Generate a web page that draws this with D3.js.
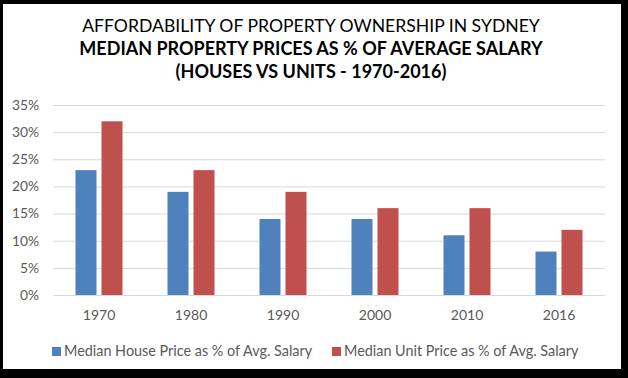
<!DOCTYPE html>
<html><head><meta charset="utf-8">
<script src="https://cdn.jsdelivr.net/npm/d3@7"></script>
<style>body{margin:0;background:#000}svg{display:block}</style>
</head><body>
<svg id="c" width="628" height="378"></svg>
<script>
const categories = ["1970","1980","1990","2000","2010","2016"];
const houseValues = [23,19,14,14,11,8];
const unitValues = [32,23,19,16,16,12];
const seriesNames = ["Median House Price as % of Avg. Salary","Median Unit Price as % of Avg. Salary"];
const yTicks = [0,5,10,15,20,25,30,35];
const titles = ["AFFORDABILITY OF PROPERTY OWNERSHIP IN SYDNEY","MEDIAN PROPERTY PRICES AS % OF AVERAGE SALARY","(HOUSES VS UNITS - 1970-2016)"];
const colors = ["#4F81BD","#C0504D"];

const font = "Lato, 'Open Sans', sans-serif";
const svg = d3.select("#c");
svg.append("rect").attr("width",628).attr("height",378).attr("fill","#000");
svg.append("rect").attr("x",3).attr("y",4).attr("width",618).attr("height",365).attr("fill","#fff");

// titles
const tY = [32,55,78];
titles.forEach((t,i)=>{
  svg.append("text").attr("x",311).attr("y",tY[i]).attr("text-anchor","middle")
    .attr("font-family",font).attr("font-size",i===0?17.6:18).attr("font-weight",i===0?400:700)
    .attr("fill","#000").text(t);
});

const x = d3.scaleBand().domain(categories).range([53,605]);
const y = d3.scaleLinear().domain([0,35]).range([295,105]);
const barW = 21, gap = 5;

// gridlines
svg.append("g").selectAll("line").data(yTicks).join("line")
  .attr("x1",53).attr("x2",605).attr("y1",d=>y(d)+0.5).attr("y2",d=>y(d)+0.5)
  .attr("stroke","#d9d9d9").attr("stroke-width",1);

// y axis
const yAxis = d3.axisLeft(y).tickValues(yTicks).tickFormat(d=>d+"%").tickSize(0).tickPadding(0);
const ya = svg.append("g").attr("transform","translate(39,0)").call(yAxis);
ya.select(".domain").remove();
ya.selectAll("text").attr("font-family",font).attr("font-size",13.8).attr("fill","#595959");

// x axis
const xAxis = d3.axisBottom(x).tickSize(0).tickPadding(0);
const xa = svg.append("g").attr("transform","translate(0,310)").call(xAxis);
xa.select(".domain").remove();
xa.selectAll("text").attr("font-family",font).attr("font-size",14).attr("fill","#595959");

// bars
const c = d => x(d)+x.bandwidth()/2;
svg.append("g").selectAll("rect").data(categories).join("rect")
  .attr("x",(d)=>c(d)-gap/2-barW).attr("width",barW)
  .attr("y",(d,i)=>y(houseValues[i])).attr("height",(d,i)=>y(0)-y(houseValues[i]))
  .attr("fill",colors[0]);
svg.append("g").selectAll("rect").data(categories).join("rect")
  .attr("x",(d)=>c(d)+gap/2).attr("width",barW)
  .attr("y",(d,i)=>y(unitValues[i])).attr("height",(d,i)=>y(0)-y(unitValues[i]))
  .attr("fill",colors[1]);

// legend
const lx = [52,332];
seriesNames.forEach((n,i)=>{
  svg.append("rect").attr("x",lx[i]).attr("y",347).attr("width",9).attr("height",9).attr("fill",colors[i]);
  svg.append("text").attr("x",lx[i]+12).attr("y",356).attr("font-family",font).attr("font-size",14.4)
    .attr("fill","#595959").text(n);
});
</script>
</body></html>
